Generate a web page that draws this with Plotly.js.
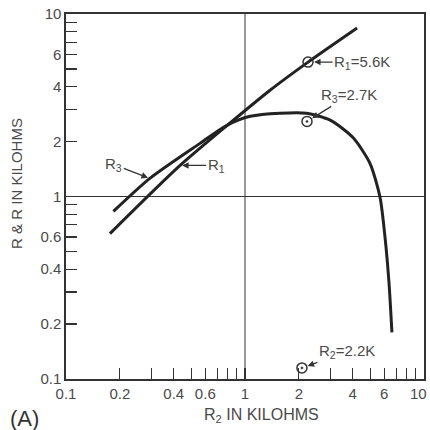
<!DOCTYPE html>
<html>
<head>
<meta charset="utf-8">
<script src="https://cdn.plot.ly/plotly-3.0.1.min.js"></script>
<style>html,body{margin:0;padding:0;background:#fff;}#chart{width:430px;height:430px;}</style>
</head>
<body>
<div id="chart"></div>
<script>
// R1 curve (R2 vs R1), kilohms
const r1X = [0.176, 0.434, 1.38, 2.25, 4.23];
const r1Y = [0.626, 1.48, 3.82, 5.45, 8.38];
// R3 curve (R2 vs R3), kilohms
const r3X = [0.184, 0.294, 0.561, 0.792, 1.07, 1.57, 2.21, 2.99, 4.0, 4.99, 5.68, 6.06, 6.37, 6.62];
const r3Y = [0.828, 1.256, 1.955, 2.455, 2.75, 2.86, 2.86, 2.62, 2.11, 1.52, 0.99, 0.595, 0.34, 0.18];
// design points (circled)
const pointNames = ["R<sub>1</sub>=5.6K", "R<sub>3</sub>=2.7K", "R<sub>2</sub>=2.2K"];
const pointX = [2.25, 2.22, 2.08];
const pointY = [5.45, 2.58, 0.115];
// reference lines at 1 kilohm
const refValue = [1];
const axisSpan = [0.1, 10];
// ticks
const yMajorTicks = [0.1, 0.2, 0.4, 0.6, 1, 2, 4, 6, 10];
const yMajorLabels = ["0.1", "0.2", "0.4", "0.6", "1", "2", "4", "6", "10"];
const xMajorTicks = [0.1, 0.2, 0.4, 0.6, 1, 2, 4, 6];
const xMajorLabels = ["0.1", "0.2", "0.4", "0.6", "1", "2", "4", "6"];
const xEndLabel = "10";   // last x label, placed at the right edge
const minorTicks = [0.3, 0.5, 0.7, 0.8, 0.9, 3, 5, 7, 8, 9, 10];
// curve labels
const curveLabels = ["R<sub>3</sub>", "R<sub>1</sub>"];

const ink = '#222';
const txt = '#4a4a4a';
const font = 'Liberation Sans, Arial, sans-serif';

const traces = [
  {x: [refValue[0], refValue[0]], y: axisSpan, mode: 'lines', line: {color: '#333', width: 1}, hoverinfo: 'skip'},
  {x: axisSpan, y: [refValue[0], refValue[0]], mode: 'lines', line: {color: '#333', width: 1}, hoverinfo: 'skip'},
  {x: r1X, y: r1Y, mode: 'lines', line: {color: ink, width: 3, shape: 'spline', smoothing: 0.6}, name: 'R1'},
  {x: r3X, y: r3Y, mode: 'lines', line: {color: ink, width: 3, shape: 'spline', smoothing: 0.7}, name: 'R3'},
  {x: pointX, y: pointY, mode: 'markers', marker: {symbol: 'circle-open-dot', size: 10, color: '#333', line: {width: 1.5, color: '#333'}}, name: 'points'}
];

const L = Math.log10;
const annFont = {family: font, size: 15, color: txt};
const arrow = {showarrow: true, arrowhead: 2, arrowsize: 1, arrowwidth: 1.3, arrowcolor: '#333', xref: 'x', yref: 'y', font: annFont};

// curve label anchor points on the curves
const r3LabelAt = [r3X[1], r3Y[1]];
const r1LabelAt = [r1X[1], r1Y[1]];

const annotations = [
  Object.assign({}, arrow, {x: L(pointX[0]), y: L(pointY[0]), text: pointNames[0], ax: 54, ay: 0, standoff: 6}),
  Object.assign({}, arrow, {x: L(pointX[1]), y: L(pointY[1]), text: pointNames[1], ax: 42, ay: -26, standoff: 6}),
  Object.assign({}, arrow, {x: L(pointX[2]), y: L(pointY[2]), text: pointNames[2], ax: 45, ay: -16, standoff: 6}),
  Object.assign({}, arrow, {x: L(r3LabelAt[0]), y: L(r3LabelAt[1]), text: curveLabels[0], ax: -36, ay: -14, standoff: 2}),
  Object.assign({}, arrow, {x: L(r1LabelAt[0]), y: L(r1LabelAt[1]), text: curveLabels[1], ax: 36, ay: 0, standoff: 2}),
  {xref: 'paper', yref: 'paper', x: 1.014, y: -0.04, text: xEndLabel, showarrow: false, font: {family: font, size: 15, color: txt}, xanchor: 'right', yanchor: 'middle'},
  {xref: 'paper', yref: 'paper', x: 0.546, y: -0.099, text: 'R<sub>2</sub> IN KILOHMS', showarrow: false, font: {family: font, size: 16, color: txt}, xanchor: 'center', yanchor: 'middle'},
  {xref: 'paper', yref: 'paper', x: -0.137, y: 0.537, text: 'R &amp; R IN KILOHMS', textangle: -90, showarrow: false, font: {family: font, size: 15, color: txt}, xanchor: 'center', yanchor: 'middle'},
  {xref: 'paper', yref: 'paper', x: -0.117, y: -0.107, text: '(A)', showarrow: false, font: {family: font, size: 22, color: '#333'}, xanchor: 'center', yanchor: 'middle'}
];

const axisCommon = {
  type: 'log', range: [-1, 1], showgrid: false, zeroline: false,
  showline: true, linecolor: '#333', linewidth: 1.6, mirror: true,
  ticks: 'inside', ticklen: 11, tickwidth: 1.2, tickcolor: '#333',
  tickmode: 'array',
  tickfont: {family: font, size: 15, color: txt},
  minor: {tickmode: 'array', tickvals: minorTicks, ticks: 'inside', ticklen: 11, tickwidth: 1.2, tickcolor: '#333', showgrid: false}
};

const layout = {
  width: 430, height: 430,
  margin: {l: 66, r: 6, t: 14, b: 51},
  paper_bgcolor: '#fff', plot_bgcolor: '#fff',
  showlegend: false,
  xaxis: Object.assign({}, axisCommon, {tickvals: xMajorTicks, ticktext: xMajorLabels}),
  yaxis: Object.assign({}, axisCommon, {tickvals: yMajorTicks, ticktext: yMajorLabels}),
  annotations: annotations
};

Plotly.newPlot('chart', traces, layout, {staticPlot: true});
</script>
</body>
</html>
